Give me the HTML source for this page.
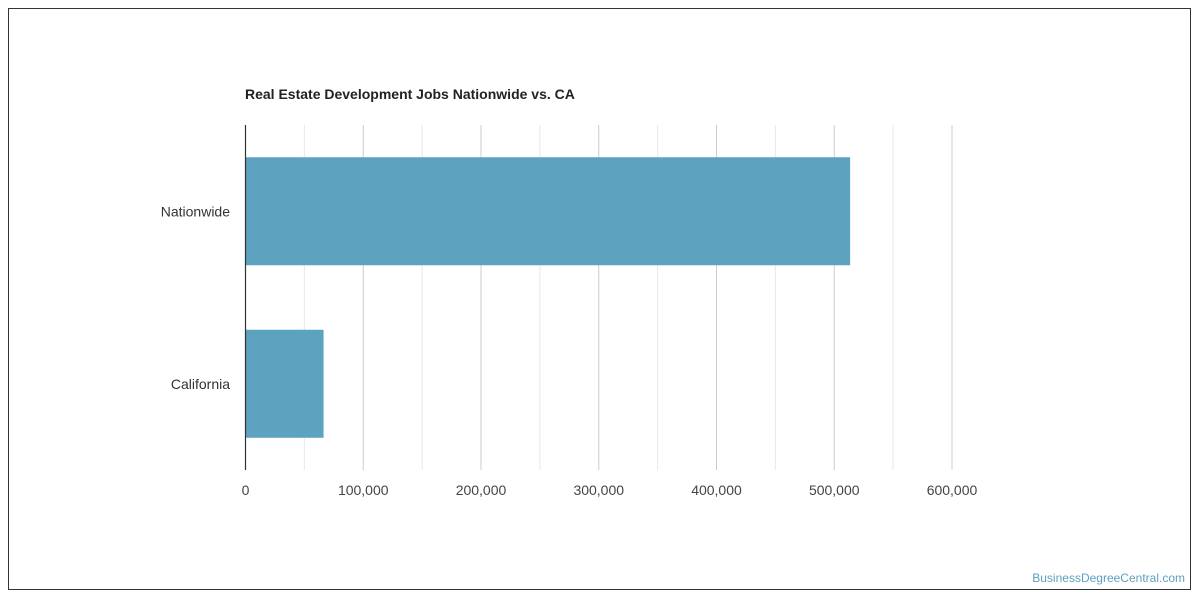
<!DOCTYPE html>
<html><head><meta charset="utf-8"><style>
body{margin:0;background:#fff;font-family:"Liberation Sans",Roboto,sans-serif}
</style></head><body>
<svg width="1200" height="600" xmlns="http://www.w3.org/2000/svg">
<rect x="8.5" y="8.5" width="1182" height="581" fill="#fff" stroke="#333"/>
<text x="245" y="99" font-size="14" font-weight="bold" fill="#222">Real Estate Development Jobs Nationwide vs. CA</text>
<g id="grid"></g><g id="bars"></g><g id="labels"></g>
<line x1="245.5" y1="125" x2="245.5" y2="470" stroke="#333" stroke-width="1.2"/>
<text x="1185" y="582" font-size="12" fill="#5fa0bf" text-anchor="end">BusinessDegreeCentral.com</text>
</svg>
<script>
const categories=["Nationwide","California"];
const values=[513500,66300];
const ticks=[0,100000,200000,300000,400000,500000,600000];
const tickLabels=["0","100,000","200,000","300,000","400,000","500,000","600,000"];
const ns="http://www.w3.org/2000/svg";
const x0=245.5,pxPer=(952-245.5)/600000,plotTop=125,plotBottom=470;
const xs=v=>x0+v*pxPer;
const band=(plotBottom-plotTop)/categories.length;
function mk(t,a,p){const e=document.createElementNS(ns,t);for(const k in a)e.setAttribute(k,a[k]);document.getElementById(p).appendChild(e);return e;}
for(let v=50000;v<=600000;v+=50000){
 const major=v%100000===0;
 const l=mk('line',{x1:xs(v),x2:xs(v),y1:plotTop,y2:plotBottom,stroke:major?'#ccc':'#e8e8e8'},'grid');
 
 
}
ticks.forEach((t,i)=>{
 const e=mk('text',{x:xs(t),y:495,'font-size':14,fill:'#444','text-anchor':'middle'},'labels');
 e.textContent=tickLabels[i];
 
 
});
categories.forEach((c,i)=>{
 const cy=plotTop+band*(i+0.5);
 const r=mk('rect',{x:x0,y:cy-54,width:xs(values[i])-x0,height:108,fill:'#5da2bf'},'bars');
 
 
 const t=mk('text',{x:230,y:cy+5,'font-size':14,fill:'#333','text-anchor':'end'},'labels');
 t.textContent=c;
 
 
});
</script>
</body></html>
